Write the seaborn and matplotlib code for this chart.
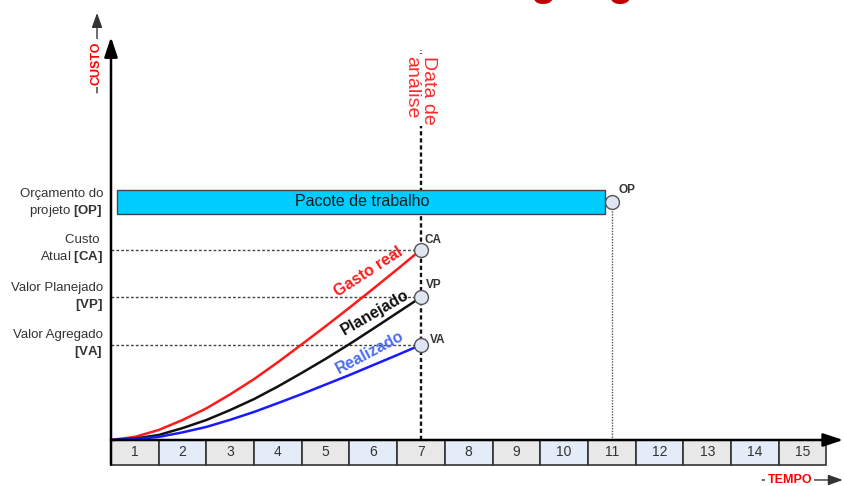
import matplotlib
matplotlib.use('Agg')
import matplotlib.pyplot as plt
from matplotlib.patches import Rectangle
import seaborn as sns
import pandas as pd

# periodos da linha do tempo
periodos = list(range(1, 16))

# curvas de custo lidas a cada meio periodo (ate a data de analise)
tempo = [0.5, 1.0, 1.5, 2.0, 2.5, 3.0, 3.5, 4.0, 4.5, 5.0, 5.5, 6.0, 6.5, 7.0]
gasto_real = [0, 1.3, 4.2, 8.4, 13.3, 19.2, 25.6, 32.7, 40.2, 47.8, 55.6, 63.6, 71.7, 80]
planejado = [0, 0.6, 2.1, 5.0, 8.4, 12.6, 17.2, 22.5, 28.2, 34.1, 40.3, 46.8, 53.4, 60]
realizado = [0, 0.35, 1.3, 3.2, 5.5, 8.5, 11.8, 15.5, 19.3, 23.3, 27.3, 31.5, 35.7, 40]

data_analise = 7
fim_pacote = 11
orcamento = 100        # OP
custo_atual = 80       # CA
valor_planejado = 60   # VP
valor_agregado = 40    # VA

sns.set_theme(style='white')
plt.rcParams['font.family'] = ['Liberation Sans', 'DejaVu Sans']
plt.rcParams['mathtext.fontset'] = 'custom'
plt.rcParams['mathtext.rm'] = 'Liberation Sans'
plt.rcParams['mathtext.bf'] = 'Liberation Sans:bold'

fig = plt.figure(figsize=(8.44, 4.86), dpi=100)
ax = fig.add_axes([0, 0, 1, 1])
ax.set_xlim(-1.827, 15.867)
ax.set_ylim(-19.33, 184.87)
ax.axis('off')

# curvas
df = pd.DataFrame({
    'tempo': tempo * 3,
    'custo': gasto_real + planejado + realizado,
    'serie': ['Gasto real'] * len(tempo) + ['Planejado'] * len(tempo) + ['Realizado'] * len(tempo),
})
cores = {'Gasto real': '#ff1a1a', 'Planejado': '#111111', 'Realizado': '#1a1aff'}
sns.lineplot(data=df, x='tempo', y='custo', hue='serie', palette=cores,
             lw=1.8, legend=False, ax=ax, estimator=None, sort=False, zorder=4)

# linha do tempo (caixas numeradas)
for p in periodos:
    cor = '#e8e8e8' if p % 2 else '#e4ecf7'
    ax.add_patch(Rectangle((p - 0.5, -10.4), 1, 10.4, fc=cor, ec='#333333', lw=1.2, zorder=2))
    ax.text(p, -5.2, str(p), ha='center', va='center', fontsize=10, color='#333333', zorder=3)

# pacote de trabalho
ax.barh(y=orcamento, width=fim_pacote - 0.15 - 0.63, left=0.63, height=10,
        color='#00ccff', edgecolor='#444444', lw=1, zorder=3)
ax.text(5.76, orcamento, 'Pacote de trabalho', ha='center', va='center',
        fontsize=11.5, color='#1a1a1a', zorder=4)

# linhas de referencia
for nivel in [custo_atual, valor_planejado, valor_agregado]:
    ax.plot([0.5, data_analise], [nivel, nivel], color='#444444', lw=1,
            ls=(0, (2, 1.5)), zorder=2.5)
ax.plot([data_analise, data_analise], [0, 164], color='#111111', lw=1.7,
        ls=(0, (1.8, 1.2)), zorder=2.5)
ax.plot([fim_pacote, fim_pacote], [0, orcamento], color='#555555', lw=1,
        ls=(0, (1, 1)), zorder=2.5)

# marcadores
ax.plot([data_analise] * 3 + [fim_pacote],
        [custo_atual, valor_planejado, valor_agregado, orcamento],
        'o', ms=10, mfc='#dfe6f2', mec='#555555', mew=1, zorder=6)
marca = dict(fontsize=8.5, fontweight='bold', color='#333333', va='center', ha='left', zorder=7)
ax.text(data_analise + 0.08, custo_atual + 4, 'CA', **marca)
ax.text(data_analise + 0.1, valor_planejado + 5, 'VP', **marca)
ax.text(data_analise + 0.18, valor_agregado + 2, 'VA', **marca)
ax.text(fim_pacote + 0.13, orcamento + 5, 'OP', **marca)

# nomes das curvas
ax.text(5.9, 70.5, 'Gasto real', color='#ff1a1a', fontsize=11.5, fontweight='bold',
        rotation=33, ha='center', va='center', zorder=5)
ax.text(6.03, 53.5, 'Planejado', color='#111111', fontsize=11.5, fontweight='bold',
        rotation=30, ha='center', va='center', zorder=5)
ax.text(5.92, 37, 'Realizado', color='#4a6cf0', fontsize=11.5, fontweight='bold',
        rotation=28, ha='center', va='center', zorder=5)

# rotulos do eixo de custo
rotulo = dict(fontsize=9.5, color='#333333', ha='right', va='center',
              multialignment='right', linespacing=1.3)
ax.text(0.33, orcamento - 0.6, 'Orçamento do\nprojeto $\\mathbf{[OP]}$', **rotulo)
ax.text(0.33, custo_atual, 'Custo \nAtual $\\mathbf{[CA]}$', **rotulo)
ax.text(0.33, valor_planejado, 'Valor Planejado\n$\\mathbf{[VP]}$', **rotulo)
ax.text(0.33, valor_agregado, 'Valor Agregado\n$\\mathbf{[VA]}$', **rotulo)

# eixos com setas
seta = dict(arrowstyle='-|>,head_length=0.6,head_width=0.2', lw=1.8, color='black',
            shrinkA=0, shrinkB=0, mutation_scale=20)
ax.annotate('', xy=(0.5, 169.3), xytext=(0.5, -10.4), arrowprops=seta, zorder=8)
ax.annotate('', xy=(15.85, 0), xytext=(0.5, 0), arrowprops=seta, zorder=8)

seta_fina = dict(arrowstyle='-|>,head_length=0.55,head_width=0.2', lw=1, color='#333333',
                 shrinkA=0, shrinkB=0, mutation_scale=16)
ax.annotate('', xy=(0.207, 179.4), xytext=(0.207, 145.8), arrowprops=seta_fina)
ax.annotate('', xy=(15.84, -16.8), xytext=(14.15, -16.8), arrowprops=seta_fina)
ax.text(0.19, 158.4, 'CUSTO', rotation=90, color='#ff0000', fontsize=9, fontweight='bold',
        ha='center', va='center', bbox=dict(fc='white', ec='none', pad=1.5), zorder=9)
ax.text(14.73, -16.8, 'TEMPO', color='#ff0000', fontsize=9, fontweight='bold',
        ha='center', va='center', bbox=dict(fc='white', ec='none', pad=1.5), zorder=9)

# data de analise
ax.text(data_analise - 0.02, 161.5, 'Data de\nanálise', rotation=270, color='#ff2a2a',
        fontsize=14, ha='center', va='top', multialignment='left', linespacing=1.05,
        bbox=dict(fc='white', ec='none', pad=1), zorder=9)

# restos do titulo cortado no topo
ax.text(9.56, 187, 'g', color='#c00000', fontsize=30, fontweight='bold', ha='center', va='baseline')
ax.text(11.17, 187, 'g', color='#c00000', fontsize=30, fontweight='bold', ha='center', va='baseline')

fig.savefig('out.png', dpi=100)
